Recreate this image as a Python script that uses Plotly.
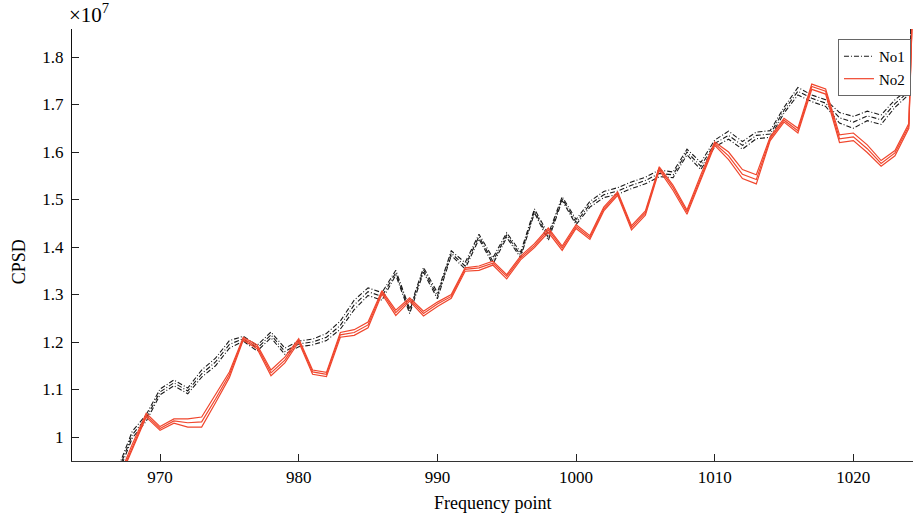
import plotly.graph_objects as go

# Frequency points
freq = list(range(967, 1026))

# CPSD values (units of 1e7) - No1, three replicate curves
no1_mid = [0.930, 1.005, 1.040, 1.095, 1.114, 1.097, 1.133, 1.158, 1.195, 1.207,
           1.187, 1.215, 1.180, 1.196, 1.200, 1.210, 1.235, 1.278, 1.306, 1.296,
           1.346, 1.265, 1.352, 1.297, 1.387, 1.360, 1.422, 1.370, 1.425, 1.383,
           1.476, 1.420, 1.502, 1.452, 1.490, 1.510, 1.518, 1.530, 1.540, 1.555,
           1.552, 1.600, 1.570, 1.618, 1.635, 1.614, 1.635, 1.638, 1.688, 1.728,
           1.713, 1.703, 1.672, 1.663, 1.676, 1.668, 1.702, 1.727, 2.600]
no1_hi = [0.937, 1.012, 1.047, 1.101, 1.120, 1.103, 1.141, 1.166, 1.203, 1.212,
          1.193, 1.221, 1.187, 1.202, 1.206, 1.218, 1.244, 1.288, 1.314, 1.304,
          1.351, 1.270, 1.357, 1.304, 1.392, 1.367, 1.427, 1.377, 1.430, 1.389,
          1.480, 1.427, 1.506, 1.458, 1.496, 1.517, 1.525, 1.537, 1.547, 1.562,
          1.558, 1.606, 1.578, 1.625, 1.644, 1.622, 1.642, 1.645, 1.694, 1.736,
          1.720, 1.710, 1.683, 1.675, 1.686, 1.678, 1.710, 1.733, 2.600]
no1_lo = [0.924, 0.998, 1.033, 1.089, 1.108, 1.091, 1.126, 1.150, 1.187, 1.202,
          1.181, 1.209, 1.174, 1.190, 1.194, 1.203, 1.227, 1.268, 1.298, 1.288,
          1.341, 1.260, 1.347, 1.291, 1.382, 1.354, 1.417, 1.364, 1.420, 1.378,
          1.472, 1.414, 1.498, 1.447, 1.484, 1.504, 1.511, 1.523, 1.533, 1.548,
          1.546, 1.594, 1.563, 1.611, 1.627, 1.606, 1.628, 1.631, 1.682, 1.720,
          1.706, 1.696, 1.661, 1.650, 1.666, 1.658, 1.694, 1.721, 2.600]

# CPSD values (units of 1e7) - No2, three replicate curves
no2_mid = [0.910, 0.980, 1.046, 1.018, 1.034, 1.030, 1.032, 1.080, 1.131, 1.207,
           1.190, 1.135, 1.162, 1.204, 1.137, 1.132, 1.215, 1.220, 1.236, 1.305,
           1.262, 1.290, 1.260, 1.280, 1.296, 1.353, 1.356, 1.366, 1.338, 1.377,
           1.403, 1.436, 1.398, 1.443, 1.420, 1.480, 1.513, 1.441, 1.472, 1.566,
           1.525, 1.474, 1.548, 1.618, 1.592, 1.553, 1.542, 1.628, 1.667, 1.645,
           1.738, 1.728, 1.628, 1.632, 1.607, 1.576, 1.598, 1.655, 2.600]
no2_hi = [0.914, 0.985, 1.050, 1.022, 1.038, 1.038, 1.042, 1.090, 1.137, 1.210,
          1.194, 1.141, 1.168, 1.207, 1.141, 1.136, 1.220, 1.226, 1.242, 1.308,
          1.267, 1.293, 1.265, 1.284, 1.300, 1.356, 1.360, 1.370, 1.342, 1.381,
          1.407, 1.440, 1.402, 1.447, 1.424, 1.484, 1.516, 1.445, 1.476, 1.569,
          1.530, 1.478, 1.552, 1.621, 1.600, 1.563, 1.552, 1.632, 1.671, 1.650,
          1.743, 1.733, 1.636, 1.640, 1.615, 1.582, 1.603, 1.660, 2.600]
no2_lo = [0.906, 0.975, 1.042, 1.014, 1.029, 1.021, 1.021, 1.072, 1.125, 1.204,
          1.186, 1.129, 1.156, 1.200, 1.132, 1.127, 1.210, 1.214, 1.230, 1.301,
          1.256, 1.286, 1.255, 1.275, 1.292, 1.349, 1.351, 1.362, 1.333, 1.373,
          1.399, 1.431, 1.393, 1.439, 1.416, 1.476, 1.509, 1.436, 1.467, 1.562,
          1.519, 1.469, 1.543, 1.614, 1.584, 1.544, 1.533, 1.624, 1.663, 1.640,
          1.732, 1.722, 1.620, 1.624, 1.599, 1.570, 1.592, 1.650, 2.600]

for arr in (no1_mid, no1_hi, no1_lo, no2_mid, no2_hi, no2_lo):
    assert len(arr) == len(freq), len(arr)

y_ticks = [1.0, 1.1, 1.2, 1.3, 1.4, 1.5, 1.6, 1.7, 1.8]
y_tick_text = ["1", "1.1", "1.2", "1.3", "1.4", "1.5", "1.6", "1.7", "1.8"]
x_ticks = [970, 980, 990, 1000, 1010, 1020]

FONT = "Liberation Serif"
BLACK = "#1a1a1a"
RED = "rgb(240,70,45)"

fig = go.Figure()
for i, arr in enumerate((no1_hi, no1_lo, no1_mid)):
    fig.add_trace(go.Scatter(
        x=freq, y=arr, mode="lines", name="No1", legendgroup="No1",
        showlegend=(i == 0),
        line=dict(color=BLACK, width=1.1, dash="5px,2px,1px,2px"),
    ))
for i, arr in enumerate((no2_hi, no2_lo, no2_mid)):
    fig.add_trace(go.Scatter(
        x=freq, y=arr, mode="lines", name="No2", legendgroup="No2",
        showlegend=(i == 0),
        line=dict(color=RED, width=1.2),
    ))

fig.update_layout(
    width=914, height=518,
    margin=dict(l=72, r=1, t=29, b=57, autoexpand=False),
    paper_bgcolor="white", plot_bgcolor="white",
    font=dict(family=FONT, size=17, color="black"),
    showlegend=True,
    legend=dict(
        x=0.9976, y=0.977, xanchor="right", yanchor="top",
        bgcolor="white", bordercolor="#666", borderwidth=1,
        font=dict(family=FONT, size=15),
        itemwidth=30, tracegroupgap=0,
    ),
    xaxis=dict(
        range=[963.65, 1024.3], tickvals=x_ticks,
        showline=True, linecolor="#333", linewidth=1.2,
        ticks="inside", ticklen=7, tickcolor="#222", tickwidth=1.2,
        showgrid=False, zeroline=False, mirror=False,
        tickfont=dict(family=FONT, size=17),
    ),
    yaxis=dict(
        range=[0.9495, 1.859], tickvals=y_ticks, ticktext=y_tick_text,
        showline=True, linecolor="#111", linewidth=1.4,
        ticks="inside", ticklen=7, tickcolor="#222", tickwidth=1.2,
        showgrid=False, zeroline=False, mirror=False,
        tickfont=dict(family=FONT, size=17),
        ticklabelstandoff=4,
    ),
    annotations=[
        dict(text="×10<sup>7</sup>", xref="paper", yref="paper",
             x=-0.006, y=1.035, xanchor="left", yanchor="middle",
             showarrow=False, font=dict(family=FONT, size=21)),
        dict(text="CPSD", xref="paper", yref="paper",
             x=-0.063, y=0.46, xanchor="center", yanchor="middle",
             textangle=-90, showarrow=False, font=dict(family=FONT, size=18)),
        dict(text="Frequency point", xref="paper", yref="paper",
             x=0.5, y=-0.097, xanchor="center", yanchor="middle",
             showarrow=False, font=dict(family=FONT, size=18)),
    ],
)

fig.write_html("out.html")
